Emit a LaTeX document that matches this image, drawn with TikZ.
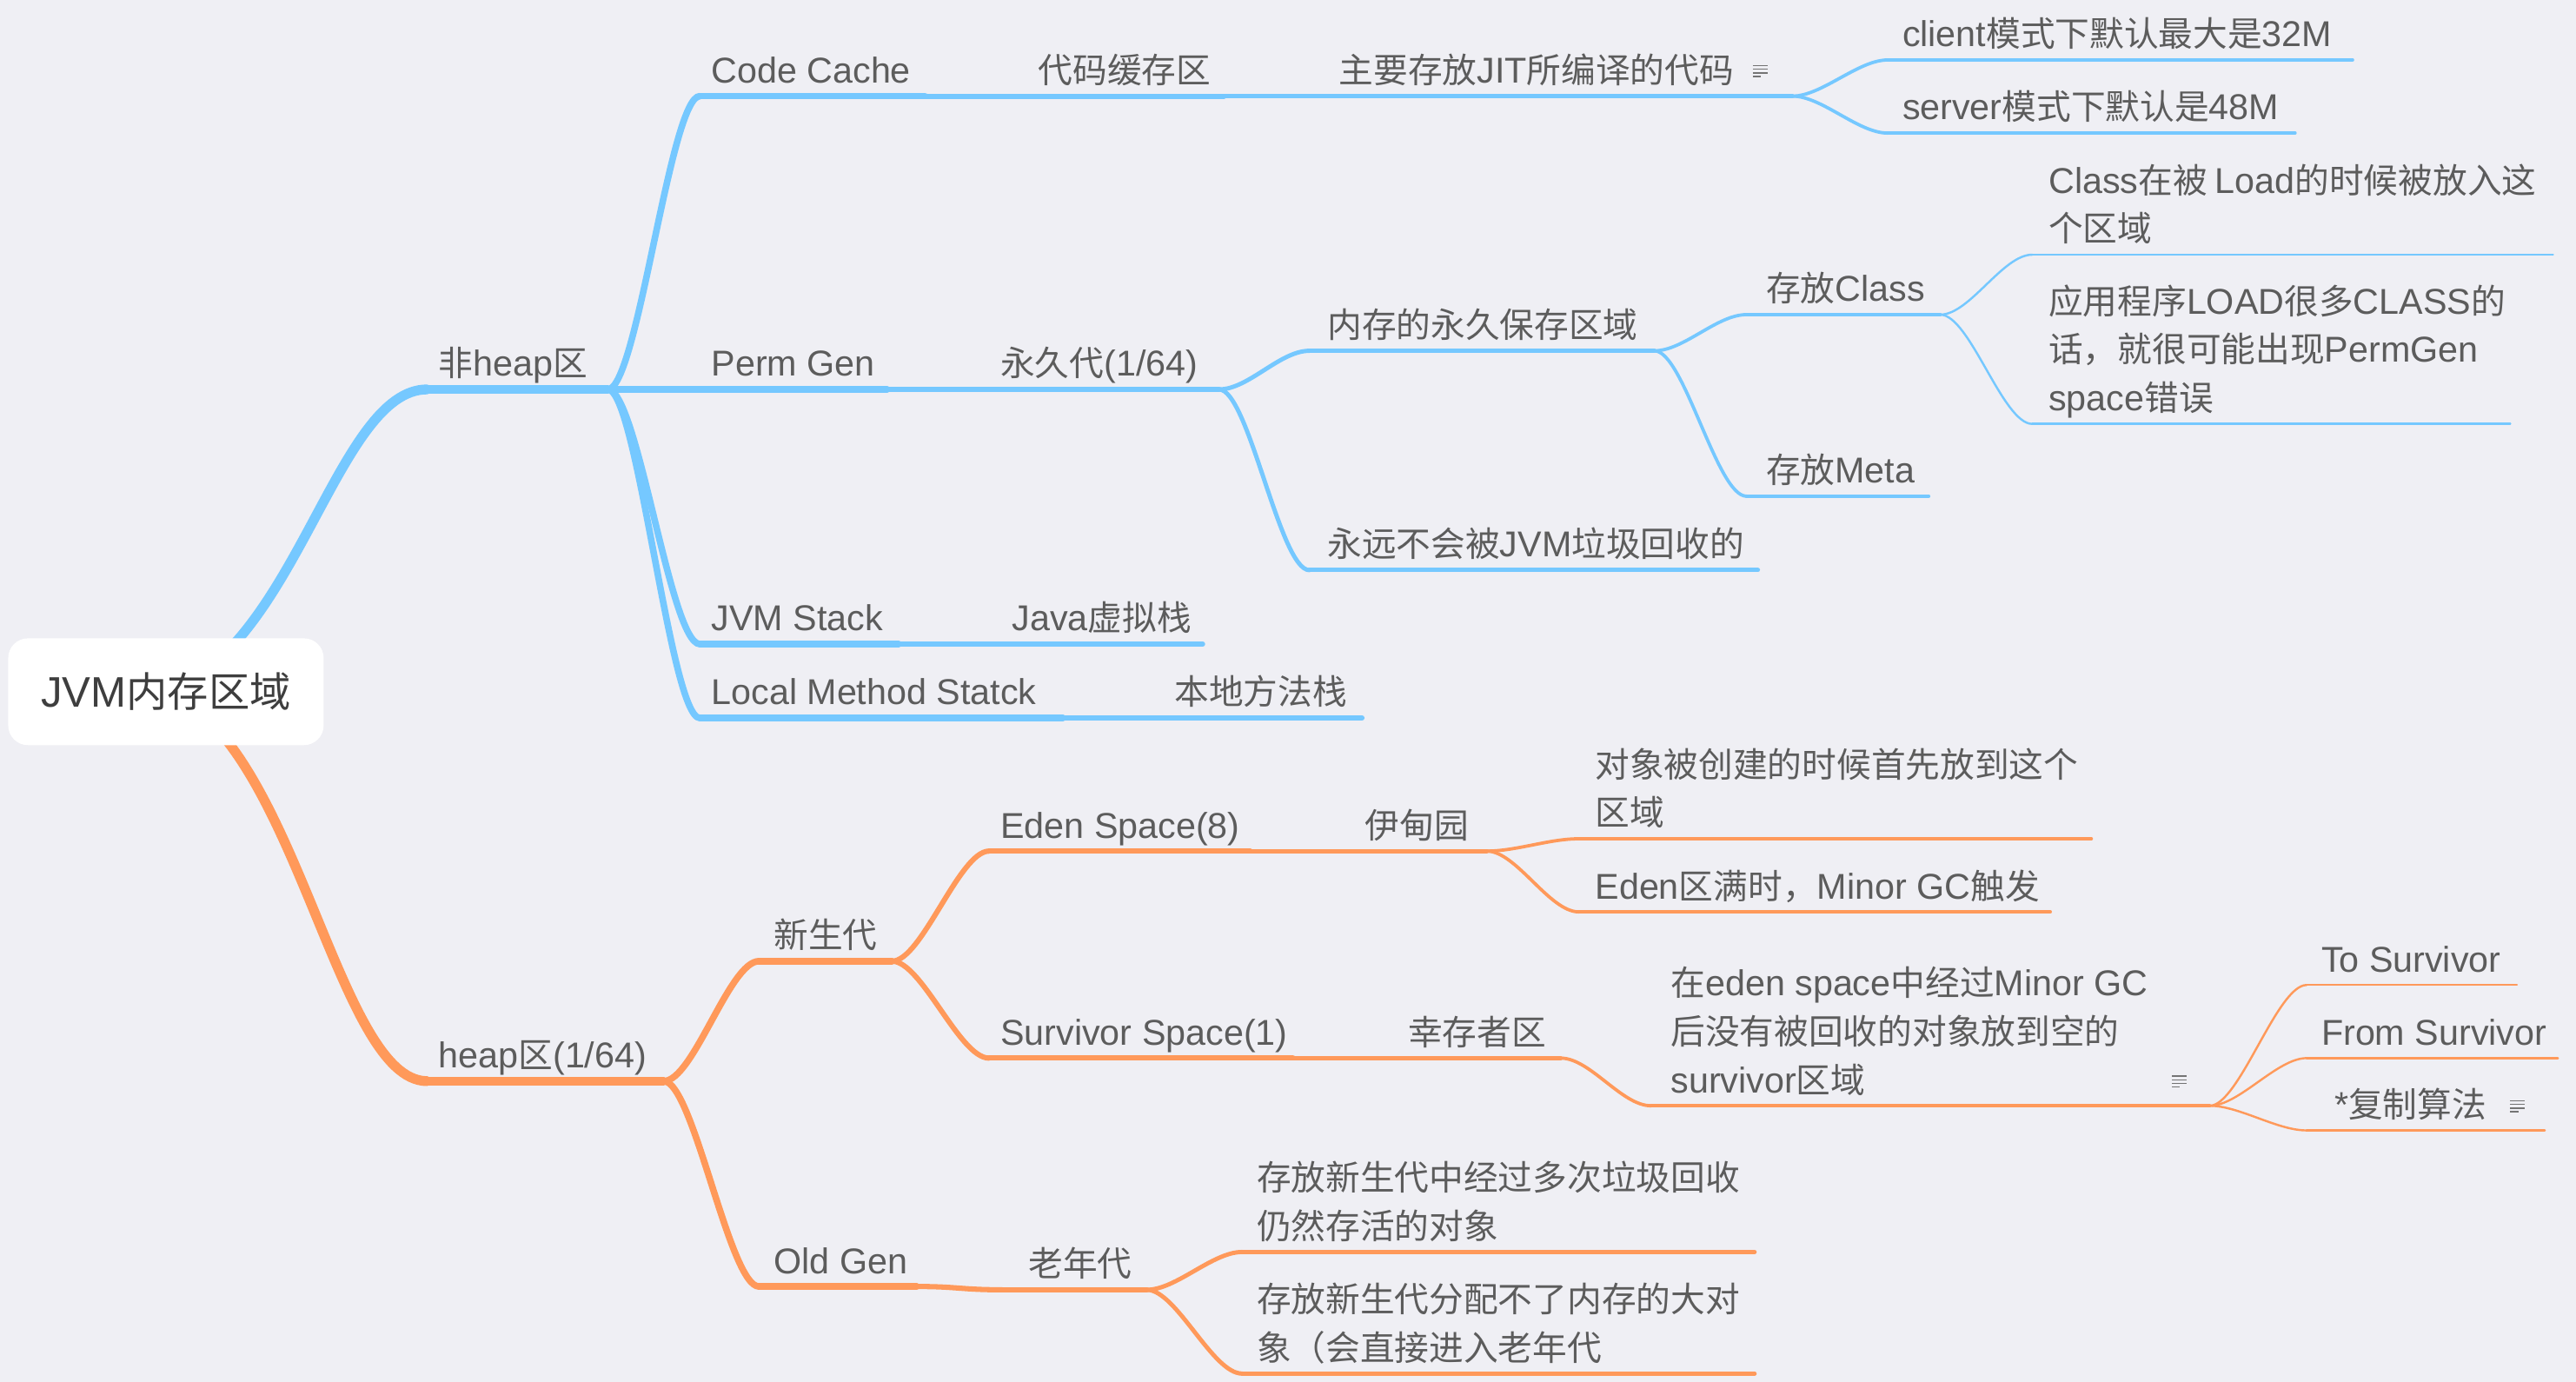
\documentclass[tikz,border=0pt]{standalone}
\usepackage{fontspec}
\setmainfont{Liberation Sans}[Scale=1.04]
\newfontfamily\latinfont{Liberation Sans}[Scale=1.04]
\newfontfamily\cjkfont{Noto Sans CJK SC}
\newXeTeXintercharclass\mmCJK
\newcount\mmcnt
\newcommand\mmsetrange[2]{\mmcnt=#1\relax
  \loop\XeTeXcharclass\mmcnt=\mmCJK\relax
  \ifnum\mmcnt<#2\relax\advance\mmcnt by 1\relax\repeat}
\mmsetrange{"3000}{"303F}
\mmsetrange{"4E00}{"9FFF}
\mmsetrange{"FF00}{"FFEF}
\XeTeXinterchartoks 0 \mmCJK = {\cjkfont}
\XeTeXinterchartoks 4095 \mmCJK = {\cjkfont}
\XeTeXinterchartoks \mmCJK 0 = {\latinfont}
\XeTeXinterchartoks 4095 0 = {\latinfont}

\definecolor{bgc}{RGB}{239,239,244}
\definecolor{mmB}{RGB}{117,200,255}
\definecolor{mmO}{RGB}{255,153,90}
\definecolor{txt}{RGB}{92,92,92}
\definecolor{roottxt}{RGB}{62,62,62}

\newcommand\mmfont{\fontsize{21}{29.5}\selectfont\XeTeXinterchartokenstate=1\relax}
\newcommand\mmrootfont{\fontsize{25}{30}\selectfont\XeTeXinterchartokenstate=1\relax}

\tikzset{
  lbl/.style={anchor=base west, inner sep=0pt, outer sep=0pt, text=txt, font=\mmfont},
  rootbox/.style={fill=white, rounded corners=12pt, minimum width=192pt, minimum height=65pt,
    inner sep=0pt, text=roottxt, font=\mmrootfont},
  brB/.style={draw=mmB, line cap=round},
  brO/.style={draw=mmO, line cap=round},
  w0/.style={line width=6pt},
  w1/.style={line width=5pt},
  w2/.style={line width=4pt},
  w3/.style={line width=3.2pt},
  w4/.style={line width=2.6pt},
  w5/.style={line width=2pt},
  w6/.style={line width=1.3pt},
  notel/.style={draw=txt!85, line width=0.75pt},
  noteicon/.pic={\draw[notel] (0,0) -- (9,0) (0,2.2) -- (9,2.2) (0,4.4) -- (9,4.4) (0,6.6) -- (5,6.6);}
}

% name, style, x start, x end, underline y, text x, text
\newcommand\mmtopic[7]{%
  \coordinate (#1-s) at (#3,#5);
  \coordinate (#1-e) at (#4,#5);
  \draw[#2] (#1-s) -- (#1-e);
  \node[lbl] (#1) at (#6,#5-8) {#7};}
\newcommand\mmline[4]{\node[lbl] (#1) at (#2,#3) {#4};}
\newcommand\mmlink[3]{\draw[#1] (#2) .. controls +(18,0) and +(-18,0) .. (#3);}

\begin{document}
\begin{tikzpicture}[x=1pt,y=-1pt]
\useasboundingbox (0,0) rectangle (1568,841.1);
\fill[bgc] (0,0) rectangle (1568,841.1);

\coordinate (rootc) at (101,421);

% ---------------- blue: non-heap ----------------
\mmtopic{nh}{brB,w1}{260}{370}{237}{267}{非heap区}
\mmtopic{cc}{brB,w2}{426}{563}{58.5}{433}{Code Cache}
\mmtopic{cd}{brB,w3}{563}{745}{58.5}{632}{代码缓存区}
\mmtopic{zy}{brB,w4}{745}{1091}{58.5}{815}{主要存放JIT所编译的代码}
\mmtopic{cl}{brB,w5}{1149}{1432}{36.5}{1158}{client模式下默认最大是32M}
\mmtopic{sv}{brB,w5}{1149}{1397}{81}{1158}{server模式下默认是48M}
\mmtopic{pg}{brB,w2}{370}{540}{237}{433}{Perm Gen}
\mmtopic{yj}{brB,w3}{540}{742}{237}{609}{永久代(1/64)}
\mmtopic{nc}{brB,w4}{797}{1007}{213.5}{808}{内存的永久保存区域}
\mmtopic{yy}{brB,w4}{797}{1070}{347}{808}{永远不会被JVM垃圾回收的}
\mmtopic{cs}{brB,w5}{1063}{1181}{191.5}{1075}{存放Class}
\mmtopic{cm}{brB,w5}{1063}{1174}{302}{1075}{存放Meta}
\mmtopic{ca}{brB,w6}{1237}{1554}{155}{1247}{个区域}
\mmline{ca1}{1247}{155-8-29.5}{Class在被 Load的时候被放入这}
\mmtopic{ap}{brB,w6}{1237}{1528}{258}{1247}{space错误}
\mmline{ap2}{1247}{258-8-29.5}{话，就很可能出现PermGen}
\mmline{ap1}{1247}{258-8-59}{应用程序LOAD很多CLASS的}
\mmtopic{js}{brB,w2}{426}{547}{392}{433}{JVM Stack}
\mmtopic{jv}{brB,w3}{547}{732}{392}{616}{Java虚拟栈}
\mmtopic{lm}{brB,w2}{426}{647}{437}{433}{Local Method Statck}
\mmtopic{bd}{brB,w3}{647}{829}{437}{715}{本地方法栈}

\draw[brB,w0] (rootc) .. controls (180,395) and (205,237) .. (nh-s);
\mmlink{brB,w2}{nh-e}{cc-s}
\mmlink{brB,w2}{nh-e}{js-s}
\mmlink{brB,w2}{nh-e}{lm-s}
\mmlink{brB,w5}{zy-e}{cl-s}
\mmlink{brB,w5}{zy-e}{sv-s}
\mmlink{brB,w4}{yj-e}{nc-s}
\mmlink{brB,w4}{yj-e}{yy-s}
\mmlink{brB,w5}{nc-e}{cs-s}
\mmlink{brB,w5}{nc-e}{cm-s}
\mmlink{brB,w6}{cs-e}{ca-s}
\mmlink{brB,w6}{cs-e}{ap-s}

% ---------------- orange: heap ----------------
\mmtopic{hp}{brO,w1}{260}{404}{658}{267}{heap区(1/64)}
\mmtopic{xs}{brO,w2}{462}{543}{585}{471}{新生代}
\mmtopic{ed}{brO,w3}{602}{761}{518}{609}{Eden Space(8)}
\mmtopic{yd}{brO,w4}{761}{905}{518}{831}{伊甸园}
\mmtopic{dx}{brO,w5}{961}{1273}{510.5}{971}{区域}
\mmline{dx1}{971}{510.5-8-29.5}{对象被创建的时候首先放到这个}
\mmtopic{em}{brO,w5}{961}{1248}{555}{971}{Eden区满时，Minor GC触发}
\mmtopic{ss}{brO,w3}{602}{787}{644}{609}{Survivor Space(1)}
\mmtopic{xc}{brO,w4}{787}{950}{644}{857}{幸存者区}
\mmtopic{ze}{brO,w5}{1005}{1345}{673}{1017}{survivor区域}
\mmline{ze2}{1017}{673-8-29.5}{后没有被回收的对象放到空的}
\mmline{ze1}{1017}{673-8-59}{在eden space中经过Minor GC}
\mmtopic{ts}{brO,w6}{1404}{1532}{599.5}{1413}{To Survivor}
\mmtopic{fs}{brO,w6}{1404}{1557}{644}{1413}{From Survivor}
\mmtopic{fz}{brO,w6}{1404}{1549}{688}{1421}{*复制算法}
\mmtopic{og}{brO,w2}{462}{558}{783}{471}{Old Gen}
\mmtopic{ln}{brO,w3}{610}{698}{785}{626}{老年代}
\mmtopic{ca2}{brO,w4}{756}{1068}{762}{765}{仍然存活的对象}
\mmline{ca2a}{765}{762-8-29.5}{存放新生代中经过多次垃圾回收}
\mmtopic{cb2}{brO,w4}{756}{1068}{836}{765}{象（会直接进入老年代}
\mmline{cb2a}{765}{836-8-29.5}{存放新生代分配不了内存的大对}

\draw[brO,w0] (rootc) .. controls (180,450) and (205,658) .. (hp-s);
\mmlink{brO,w2}{hp-e}{xs-s}
\mmlink{brO,w2}{hp-e}{og-s}
\mmlink{brO,w3}{xs-e}{ed-s}
\mmlink{brO,w3}{xs-e}{ss-s}
\mmlink{brO,w5}{yd-e}{dx-s}
\mmlink{brO,w5}{yd-e}{em-s}
\mmlink{brO,w5}{xc-e}{ze-s}
\mmlink{brO,w6}{ze-e}{ts-s}
\mmlink{brO,w6}{ze-e}{fs-s}
\mmlink{brO,w6}{ze-e}{fz-s}
\draw[brO,w3] (og-e) .. controls +(25,0) and +(-25,0) .. (ln-s);
\mmlink{brO,w4}{ln-e}{ca2-s}
\mmlink{brO,w4}{ln-e}{cb2-s}

% note icons
\pic at (1067,40) {noteicon};
\pic at (1322,655) {noteicon};
\pic at (1528,670) {noteicon};

% root
\node[rootbox] (root) at (rootc) {JVM内存区域};
\end{tikzpicture}
\end{document}
